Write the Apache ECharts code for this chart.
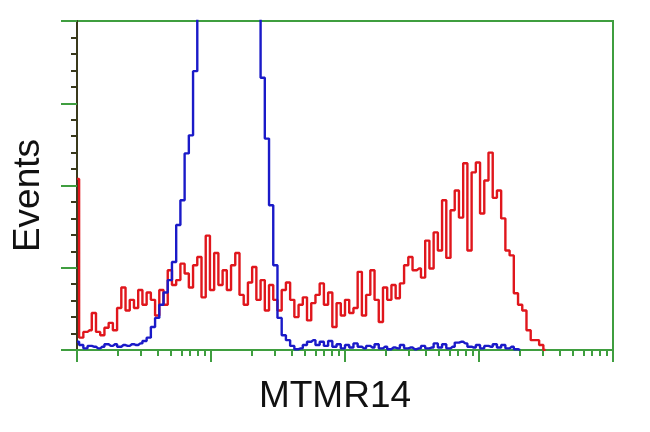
<!DOCTYPE html>
<html>
<head>
<meta charset="utf-8">
<script src="https://cdn.jsdelivr.net/npm/echarts@6/dist/echarts.min.js"></script>
<style>
html,body{margin:0;padding:0;background:#fff;}
#chart{width:650px;height:432px;}
</style>
</head>
<body>
<div id="chart"></div>
<script>
// channel index (0..127) spanning 4 log decades
var channels = [];
for (var c = 0; c < 128; c++) channels.push(c);

var redCounts = [
 208,15,22,24,45,22,18,27,33,24, 51,76,48,61,51,73,55,70,61,42,
 73,55,97,79,85,105,93,76,103,113, 64,139,73,118,79,97,73,103,118,67,
 55,82,101,61,85,48,79,61,48,73, 82,61,40,55,64,36,57,67,81,55,
 70,28,57,42,61,45,51,95,42,67, 97,61,34,76,61,79,63,81,103,113,
 97,99,88,133,99,143,121,182,112,170, 194,161,227,121,216,228,166,206,240,185,
 194,160,121,115,69,55,48,24,12,12, 6,0
];

var blueCounts = [
 10,6,2,5,4,2,4,7,5,7, 4,6,5,7,6,8,11,15,28,39,
 55,70,85,107,152,182,239,261,339,406, 460,520,580,620,650,660,650,640,620,590,
 560,520,480,440,331,257,176,103,39,18, 12,5,1,2,6,10,12,6,10,5,
 11,4,7,2,6,3,8,4,2,5, 3,7,2,4,1,3,2,6,2,3,
 1,2,5,2,3,8,3,7,2,4, 9,10,8,4,3,6,2,5,4,7,
 3,6,2,4,1,0
];

var xTitle = 'MTMR14';
var yTitle = 'Events';

var green = '#3f9e3f';
var dark = '#3a3a1c';

function pairs(arr){ return arr.map(function(v,i){ return [channels[i], v]; }); }

var chart = echarts.init(document.getElementById('chart'), null, {renderer:'canvas'});
chart.setOption({
  backgroundColor: '#ffffff',
  animation: false,
  grid: {left: 77, top: 21, right: 37, bottom: 82, show: true, borderColor: green, borderWidth: 2, backgroundColor: 'transparent'},
  xAxis: [
    {
      type: 'log', logBase: 10, min: 1, max: 10000, position: 'bottom',
      name: xTitle, nameLocation: 'middle', nameGap: 28,
      nameTextStyle: {fontFamily: 'Liberation Sans, Arial, sans-serif', fontSize: 37, color: '#111', padding: [0, 20, 0, 0]},
      axisLine: {show: true, lineStyle: {color: green, width: 2}},
      axisTick: {show: true, inside: false, length: 12, lineStyle: {color: green, width: 2}},
      minorTick: {show: true, splitNumber: 9, length: 6, lineStyle: {color: green, width: 2}},
      axisLabel: {show: false},
      splitLine: {show: false},
      minorSplitLine: {show: false}
    },
    {
      type: 'value', min: 0, max: 127, show: false
    }
  ],
  yAxis: {
    type: 'value', min: 0, max: 400, interval: 100,
    name: yTitle, nameLocation: 'middle', nameGap: 30, nameRotate: 90,
    nameTextStyle: {fontFamily: 'Liberation Sans, Arial, sans-serif', fontSize: 37, color: '#111', padding: [0, 20, 0, 0]},
    axisLine: {show: true, lineStyle: {color: dark, width: 2}},
    axisTick: {show: true, inside: false, length: 16, lineStyle: {color: green, width: 2}},
    minorTick: {show: true, splitNumber: 5, length: 6, lineStyle: {color: dark, width: 2}},
    axisLabel: {show: false},
    splitLine: {show: false}
  },
  series: [
    {
      type: 'line', xAxisIndex: 1, step: 'middle', symbol: 'none', clip: true,
      data: pairs(blueCounts),
      lineStyle: {color: '#1a1ac8', width: 2.4}, z: 3
    },
    {
      type: 'line', xAxisIndex: 1, step: 'middle', symbol: 'none', clip: true,
      data: pairs(redCounts),
      lineStyle: {color: '#e0161c', width: 2.4}, z: 2
    }
  ]
});
</script>
</body>
</html>
